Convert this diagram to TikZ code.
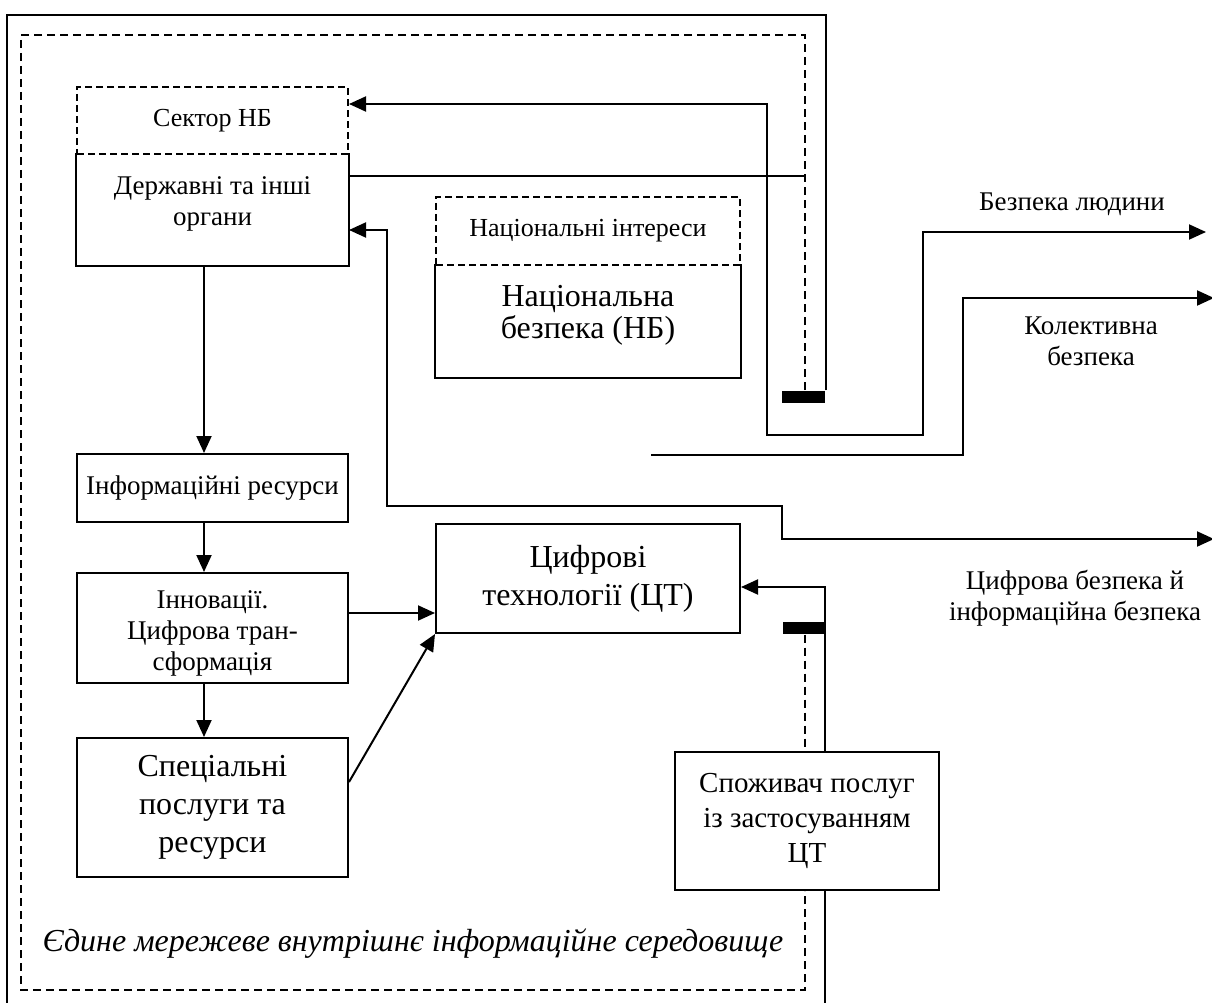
\documentclass[tikz,border=0pt]{standalone}
\usepackage{fontspec}
\setmainfont{Liberation Serif}
\usetikzlibrary{arrows.meta}
\tikzset{
	box/.style={
		rectangle,
		draw,
		inner sep=0,
		minimum width=271,
		align=center
	},
	dashbox/.style={
		box,
		dash pattern=on 7pt off 4pt
	},
	openbox/.style={
		box,
		draw=none
	},
	bar/.style={
		rectangle,
		fill=black,
		inner sep=0,
		minimum width=43,
		minimum height=12
	},
	smalltxt/.style={font=\fontsize{26}{30}\selectfont, align=center},
	medtxt/.style={font=\fontsize{27}{31}\selectfont, align=center},
	bigtxt/.style={font=\fontsize{32}{38}\selectfont, align=center},
}

\begin{document}
\begin{tikzpicture}[x=1pt,y=-1pt,line width=2pt]
\tikzset{EdgeStyle/.style = {-{Triangle[length=17pt,width=15pt]}}}
\tikzset{BothStyle/.style = {{Triangle[length=17pt,width=15pt]}-{Triangle[length=17pt,width=15pt]}}}
\tikzset{FrameStyle/.style = {dash pattern=on 8pt off 5pt}}
\useasboundingbox (0,0) rectangle (1212,1003);

\node[dashbox, minimum height=67, smalltxt] (sector) at (212.5,120.5) {Сектор НБ};
\node[openbox, minimum height=111] (organy) at (212.5,209.5) {};
\node[medtxt, yshift=6] (organytext) at (organy) {Державні та інші\\органи};
\node[dashbox, minimum width=304, minimum height=68, smalltxt] (interesy) at (588,231) {Національні інтереси};
\node[openbox, minimum width=304, minimum height=112] (nacbez) at (588,321) {};
\node[bigtxt, yshift=6, font=\fontsize{32}{32}\selectfont] (nacbeztext) at (nacbez) {Національна\\безпека (НБ)};
\node[box, minimum height=68, medtxt] (infres) at (212.5,488) {Інформаційні ресурси};
\node[box, minimum height=110, medtxt] (innov) at (212.5,628) {};
\node[medtxt, yshift=-5] (innovtext) at (innov) {Інновації.\\Цифрова тран-\\сформація};
\node[box, minimum height=139, bigtxt] (specpos) at (212.5,807.5) {Спеціальні\\послуги та\\ресурси};
\node[box, minimum width=304, minimum height=109, bigtxt] (tsyfr) at (588,578.5) {Цифрові\\технології (ЦТ)};
\node[box, minimum width=264, minimum height=138, font=\fontsize{29}{35}\selectfont] (spozh) at (807,821) {Споживач послуг\\із застосуванням\\ЦТ};
\node[bar] (bartop) at (803.5,397) {};
\node[bar] (barbot) at (804,627.5) {};

\node[medtxt] (humanlabel) at (1072,204) {Безпека людини};
\node[medtxt] (colllabel) at (1091,341) {Колективна\\безпека};
\node[medtxt] (diglabel) at (1075,598) {Цифрова безпека й\\інформаційна безпека};
\node[font=\fontsize{32}{36}\selectfont\itshape] (envlabel) at (413,944) {Єдине мережеве внутрішнє інформаційне середовище};

\coordinate (humanend) at (1206,232);
\coordinate (collstart) at (651,455);
\coordinate (collend) at (1214,298);
\coordinate (digend) at (1214,539);

\draw (organy.north west) -- (organy.south west) -- (organy.south east) -- (organy.north east);
\draw (nacbez.north west) -- (nacbez.south west) -- (nacbez.south east) -- (nacbez.north east);

\draw (bartop.north east) |- (7,15) -- (7,1010);
\draw[FrameStyle] (bartop.north -| 805,0) -- (805,35) -- (21,35) -- (21,990) -- (805,990) -- (spozh.south -| 805,0);
\draw[FrameStyle] (barbot.south -| 805,0) -- (spozh.north -| 805,0);
\draw (spozh.south -| 825,0) -- (825,1010);
\draw[EdgeStyle] (spozh.north -| 825,0) |- (tsyfr.east |- 0,587);
\draw[line width=1.5pt] (organy.east |- 0,176) -- (805,176);

\draw[BothStyle] (sector.east |- 0,104) -| (767,435) -| (923,232) -- (humanend);
\draw[EdgeStyle] (collstart) -| (963,298) -- (collend);
\draw[BothStyle] (organy.east |- 0,230) -| (387,506) -| (782,539) -- (digend);

\draw[EdgeStyle] (organy.south -| 204,0) -- (infres.north -| 204,0);
\draw[EdgeStyle] (infres.south -| 204,0) -- (innov.north -| 204,0);
\draw[EdgeStyle] (innov.south -| 204,0) -- (specpos.north -| 204,0);
\draw[EdgeStyle] (innov.east |- 0,613) -- (tsyfr.west |- 0,613);
\draw[EdgeStyle] (specpos.east |- 0,782) -- (tsyfr.south west);
\end{tikzpicture}
\end{document}
